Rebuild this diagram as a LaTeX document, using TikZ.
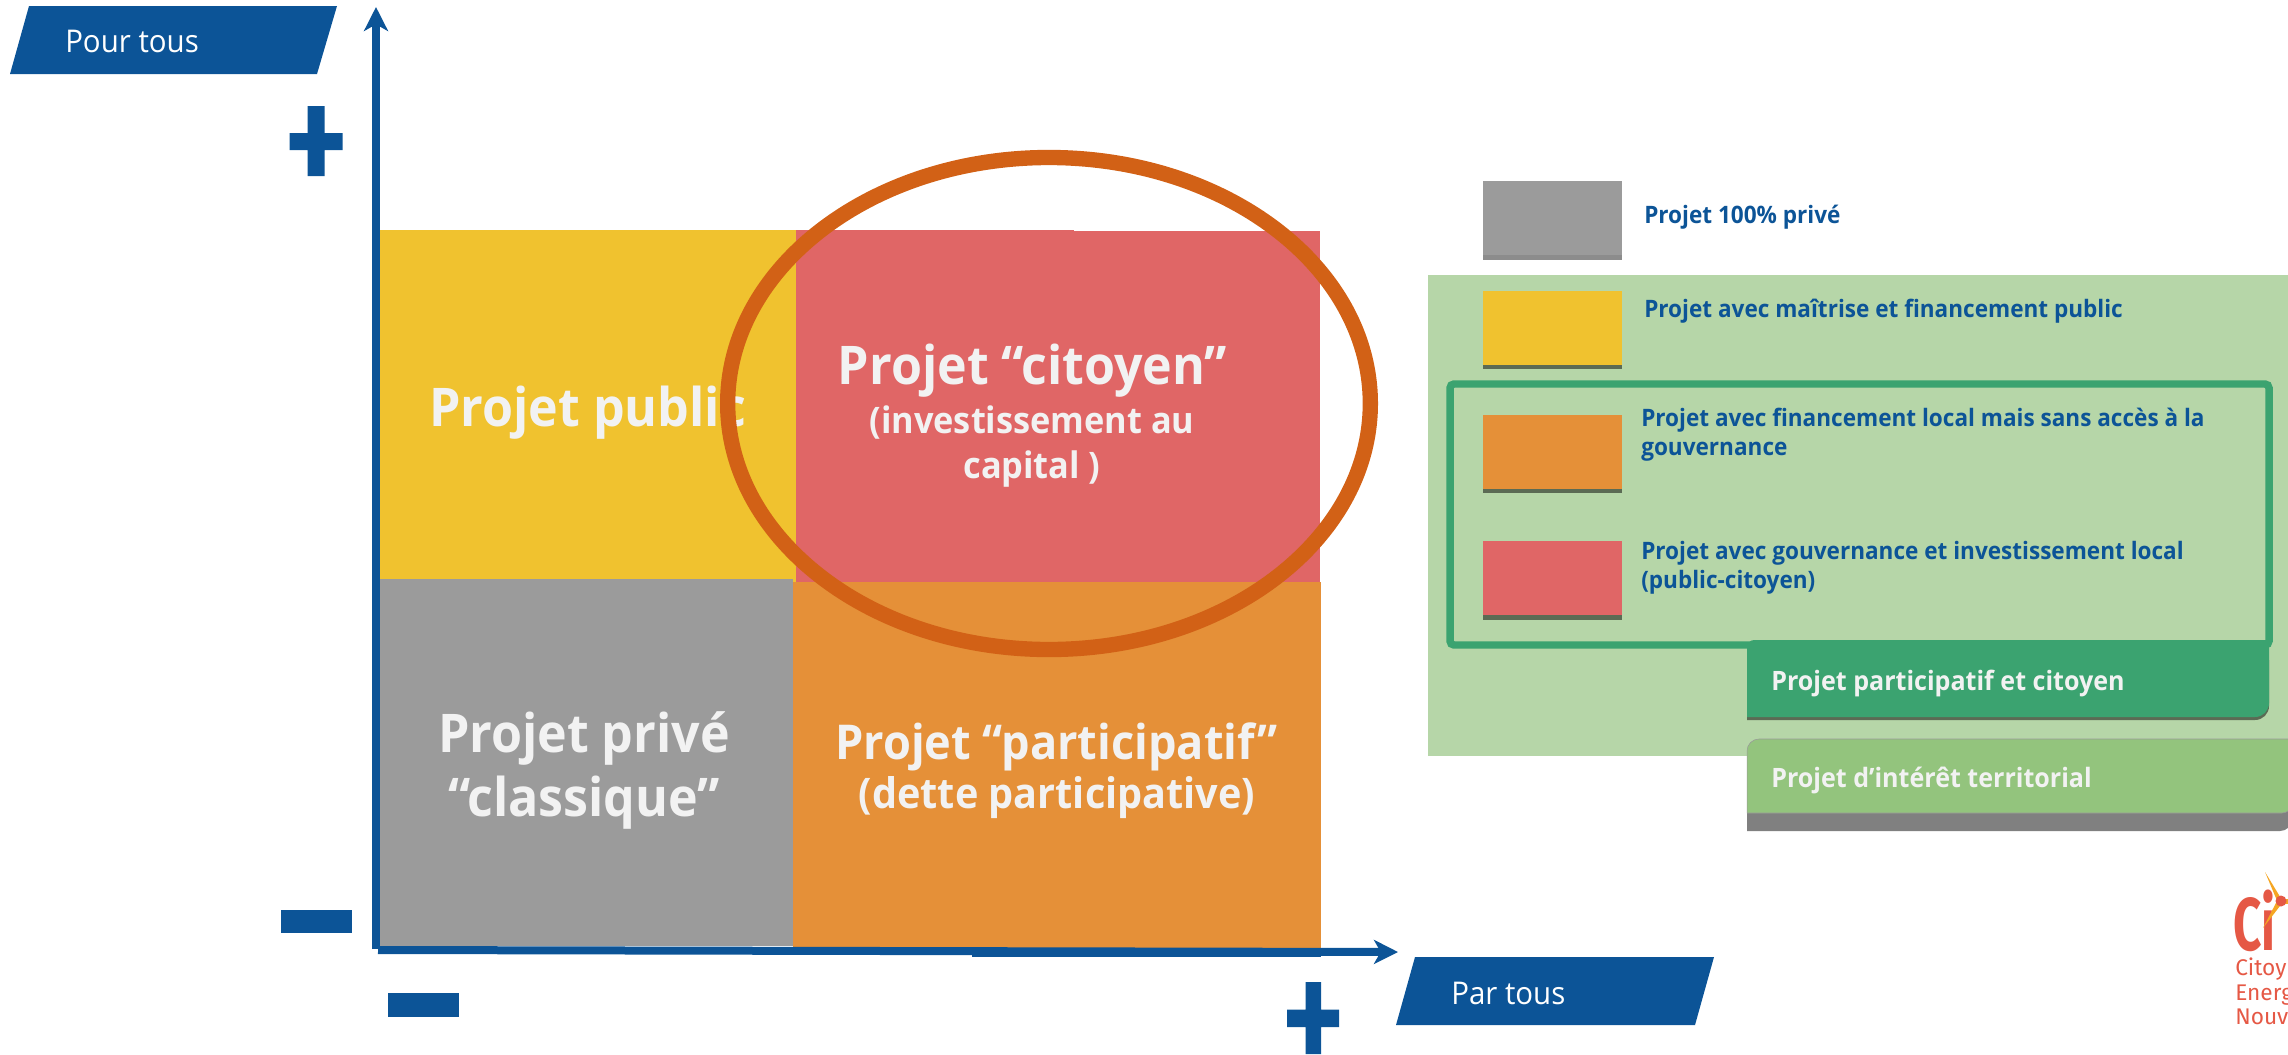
\documentclass[tikz,border=0pt]{standalone}
\usepackage{fontspec}
\setmainfont[FakeStretch=0.94]{Open Sans}
\newfontfamily\logofont{Fira Sans}
\usetikzlibrary{arrows.meta,shapes.geometric}
\definecolor{axeblue}{HTML}{0C5497}
\definecolor{pubyellow}{HTML}{F0C22F}
\definecolor{citred}{HTML}{E06666}
\definecolor{partorange}{HTML}{E59038}
\definecolor{privgray}{HTML}{9B9B9B}
\definecolor{ringorange}{HTML}{D26116}
\definecolor{palegreen}{HTML}{B6D6A8}
\definecolor{deepgreen}{HTML}{3BA370}
\definecolor{midgreen}{HTML}{93C47D}
\definecolor{logored}{HTML}{E55845}
\definecolor{logoamber}{HTML}{F5A623}
\newcommand{\pt}[2]{\fontsize{#1}{#2}\selectfont}
\tikzset{
  quadtext/.style={text=white!95!black,font=\bfseries\pt{40}{48},align=center,inner sep=0pt,anchor=base},
  subtext/.style={text=white!95!black,font=\bfseries\pt{27.4}{33.75},align=center,inner sep=0pt,anchor=base},
  legendtext/.style={text=axeblue,font=\bfseries\pt{18}{21.75},align=left,anchor=base west,inner sep=0pt},
  bartext/.style={text=white!95!black,font=\bfseries\pt{20}{24},anchor=base west,inner sep=0pt},
  tagtext/.style={text=white,font=\pt{23.5}{28},anchor=base west,inner sep=0pt},
  axisarrow/.style={draw=axeblue,line width=6pt,-{Stealth[length=18pt,width=18pt,inset=5pt]}},
  swatchshadow/.style={fill=black!50!palegreen},
  logotext/.style={text=logored,font=\logofont\pt{17}{20},anchor=base west,inner sep=0pt}
}
\begin{document}
\begin{tikzpicture}[x=0.75pt,y=-0.75pt]
  \useasboundingbox (0,0) rectangle (2288,1054);
  \clip (0,0) rectangle (2288,1054);

  % quadrants
  \fill[pubyellow] (380,230) rectangle (796,582);
  \fill[privgray] (380,579) rectangle (793,946);
  \fill[citred] (796,230) rectangle (1074,582);
  \fill[citred] (1074,231) rectangle (1320,582);
  \fill[partorange] (793,582) rectangle (1321,948);

  \node[quadtext] (public) at (587.5,426.5) {Projet public};
  \node[quadtext] (citoyen) at (1032.5,384) {Projet “citoyen”};
  \node[subtext] (capital) at (1032,478) {(investissement au\\capital )};
  \node[quadtext] (prive) at (584,816) {Projet privé\\“classique”};
  \node[quadtext,font=\bfseries\pt{36}{44}] (participatif) at (1056.5,759) {Projet “participatif”};
  \node[subtext,font=\bfseries\pt{31.6}{38}] (dette) at (1057,808) {(dette participative)};

  \node[draw=ringorange,line width=11.5pt,ellipse,minimum width=482pt,
    minimum height=369pt,inner sep=0pt] (ring) at (1049,403.5) {};

  % axes
  \coordinate (originy) at (376,949);
  \coordinate (originx) at (378,950);
  \coordinate (ytip) at (376,7);
  \coordinate (xtip) at (1398,952);
  \draw[axisarrow] (originy) -- (ytip);
  \draw[axisarrow] (originx) -- (xtip);
  \fill[axeblue] (972,952) rectangle (1321,956.5);

  % signs
  \fill[axeblue] (307.5,106) rectangle (324.5,176) (289.5,133) rectangle (342.5,150);
  \fill[axeblue] (281,909.5) rectangle (352,933);
  \fill[axeblue] (388,993) rectangle (458.5,1016.5);
  \fill[axeblue] (1305.5,982) rectangle (1321,1054) (1287,1009.5) rectangle (1339,1027);

  % tags
  \fill[axeblue] (29,6) -- (337,6) -- (317,74) -- (10,74) -- cycle;
  \node[tagtext] (pour) at (65,52) {Pour tous};
  \fill[axeblue] (1415,957) -- (1714,957) -- (1695,1025) -- (1396,1025) -- cycle;
  \node[tagtext] (par) at (1451,1004) {Par tous};

  % legend
  \fill[palegreen] (1428,275) rectangle (2288,756);
  \fill[black!45] (1483,181) rectangle (1622,260);
  \fill[privgray] (1483,181) rectangle (1622,255);
  \fill[swatchshadow] (1483,291) rectangle (1622,369);
  \fill[pubyellow] (1483,291) rectangle (1622,365);
  \fill[swatchshadow] (1483,415) rectangle (1622,493);
  \fill[partorange] (1483,415) rectangle (1622,489);
  \fill[swatchshadow] (1483,541) rectangle (1622,620);
  \fill[citred] (1483,541) rectangle (1622,615);
  \draw[deepgreen,line width=5.6pt,rounded corners=3pt] (1450,384) rectangle (2269,645);

  \node[legendtext] (lprive) at (1644,223) {Projet 100\% privé};
  \node[legendtext] (lpublic) at (1644,317) {Projet avec maîtrise et financement public};
  \node[legendtext] (lfinance) at (1641,455) {Projet avec financement local mais sans accès à la\\gouvernance};
  \node[legendtext] (lgouv) at (1641,588) {Projet avec gouvernance et investissement local\\(public-citoyen)};

  % bars
  \fill[swatchshadow] (1747,660) -- (1747,720) -- (2255,720) to[out=0,in=-90] (2269,706) -- (2269,660) -- cycle;
  \fill[deepgreen] (1747,648) -- (1747,717) -- (2255,717) to[out=0,in=-90] (2269,703) -- (2269,640) -- (1754,640) to[out=180,in=90] (1747,648) -- cycle;
  \node[bartext] (lcitoyen) at (1771,690) {Projet participatif et citoyen};
  \fill[black!50] (1747,760) -- (1747,831) -- (2280,831) to[out=0,in=-90] (2292,819) -- (2292,760) -- cycle;
  \fill[midgreen,draw=black!40] (1747,813) -- (1747,751) to[out=90,in=180] (1759,739) -- (2292,739) -- (2292,803) to[out=-90,in=0] (2282,813) -- cycle;
  \node[bartext] (lterritoire) at (1771,787) {Projet d’intérêt territorial};

  % logo
  \node[logotext,font=\logofont\bfseries\pt{56}{60},xscale=0.66,transform shape] (logoci) at (2233,950) {Ci};
  \fill[logoamber] (2265,872) -- (2282,900) -- (2278,903) -- cycle;
  \fill[logoamber] (2263,928) -- (2278,899) -- (2283,902) -- cycle;
  \fill[logoamber] (2281,899) -- (2290,899) -- (2290,904) -- (2281,904) -- cycle;
  \fill[logored] (2281,901) circle (5.5);
  \node[logotext] (logoa) at (2235,975) {Citoy};
  \node[logotext] (logob) at (2235,1000) {Energ};
  \node[logotext] (logoc) at (2235,1024) {Nouv};
\end{tikzpicture}
\end{document}
